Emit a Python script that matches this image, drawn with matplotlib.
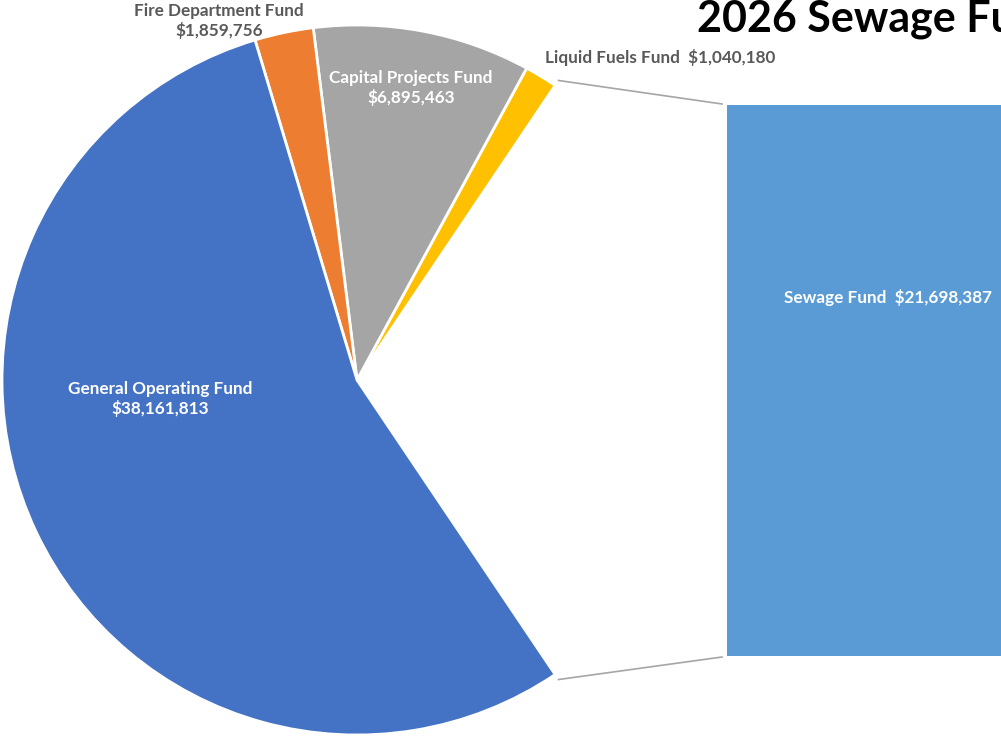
import numpy as np
import matplotlib.pyplot as plt

# 2026 budget by fund
funds = ['Sewage Fund', 'Liquid Fuels Fund', 'Capital Projects Fund',
         'Fire Department Fund', 'General Operating Fund']
amounts = [21698387, 1040180, 6895463, 1859756, 38161813]
colors = ['white', '#FFC000', '#A5A5A5', '#ED7D31', '#4472C4']

W, H = 1001, 736
fig = plt.figure(figsize=(W / 100, H / 100), dpi=100)
ax = fig.add_axes([0, 0, 1, 1])

total = sum(amounts)
half = 360 * amounts[0] / total / 2
cx, cy, r = 357, H - 380, 355

wedges, _ = ax.pie(amounts, colors=colors, startangle=-half, counterclock=True,
                   center=(cx, cy), radius=r,
                   wedgeprops=dict(edgecolor='white', linewidth=2))
wedges[0].set_edgecolor('none')
ax.set_xlim(0, W)
ax.set_ylim(0, H)
ax.set_aspect('equal')
ax.axis('off')

# bar breaking out the sewage slice
bx0, bx1, by_top, by_bot = 727, 1049, 105, 656
bax = fig.add_axes([bx0 / W, (H - by_bot) / H, (bx1 - bx0) / W, (by_bot - by_top) / H])
bax.bar([0], [amounts[0]], width=1, color='#5B9BD5')
bax.set_xlim(-0.5, 0.5)
bax.set_ylim(0, amounts[0])
bax.axis('off')

# connector lines from the slice edge to the bar corners
for sgn, by in [(1, by_top), (-1, by_bot)]:
    a = np.radians(sgn * half)
    x0 = cx + (r + 6) * np.cos(a)
    y0 = cy + (r + 6) * np.sin(a)
    ax.plot([x0, bx0 - 5], [y0, H - by + sgn * 1], color='#A6A6A6', lw=1.2)

font = dict(family='Lato', fontweight='bold', fontsize=12.3)
fmt = lambda v: '${:,}'.format(v)

ax.text(219, H - 21, funds[3] + '\n' + fmt(amounts[3]), ha='center', va='center',
        color='#595959', linespacing=1.2, **font)
ax.text(411, H - 88, funds[2] + '\n' + fmt(amounts[2]), ha='center', va='center',
        color='white', linespacing=1.2, **font)
ax.text(545, H - 58, funds[1] + '  ' + fmt(amounts[1]), ha='left', va='center',
        color='#595959', **font)
ax.text(160, H - 399, funds[4] + '\n' + fmt(amounts[4]), ha='center', va='center',
        color='white', linespacing=1.2, **font)
bax.text(0, amounts[0] * 0.65, funds[0] + '  ' + fmt(amounts[0]), ha='center',
         va='center', color='white', **font)

ax.text(697, H - 19, '2026 Sewage Fund Budget', ha='left', va='center',
        family='Lato', fontweight='bold', fontsize=31, color='black')

fig.savefig('out.png', dpi=100)
